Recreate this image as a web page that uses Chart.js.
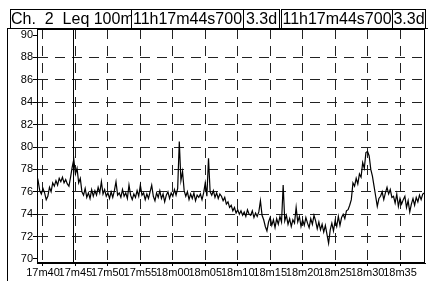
<!DOCTYPE html>
<html>
<head>
<meta charset="utf-8">
<script src="https://cdn.jsdelivr.net/npm/chart.js@4.4.0/dist/chart.umd.min.js"></script>
<style>
html, body { margin: 0; padding: 0; background: #fff; }
#wrap { position: relative; width: 428px; height: 281px; overflow: hidden; font-family: 'Liberation Sans', Arial, sans-serif; }
#levelChart { position: absolute; left: 0; top: 0; }
.box { position: absolute; top: 9px; height: 20px; box-sizing: border-box; border: 1.5px solid #000; font-size: 16px; line-height: 17px; text-align: center; color: #000; background: #fff; white-space: pre; }
#frame { position: absolute; left: 7px; top: 28px; width: 430px; height: 260px; border-left: 1px solid #000; border-top: 1px solid #000; }
</style>
</head>
<body>
<div id="wrap">
  <div id="frame"></div>
  <canvas id="levelChart" width="428" height="281"></canvas>
  <div class="box" style="left:10px;width:122px;">Ch.  2  Leq 100m</div>
  <div class="box" style="left:131px;width:113px;">11h17m44s700</div>
  <div class="box" style="left:243px;width:37px;">3.3d</div>
  <div class="box" style="left:281px;width:112px;">11h17m44s700</div>
  <div class="box" style="left:392px;width:34px;">3.3d</div>
</div>
<script>
// Leq 100m trace, resampled every 0.25 s, seconds from 17m40
const startSec = -1.0;
const stepSec = 0.25;
const levels = [
    77.6, 77.0, 76.1, 75.8,
    76.3, 75.9, 75.3, 75.6,
    76.4, 76.0, 76.8, 76.5,
    77.0, 76.6, 77.2, 76.9,
    77.3, 76.8, 77.1, 76.7,
    76.5, 77.3, 78.2, 78.9,
    77.6, 78.1, 76.8, 77.2,
    76.0, 75.7, 76.3, 75.5,
    75.9, 75.4, 76.2, 75.6,
    76.1, 75.7, 76.4, 75.9,
    76.9, 75.8, 76.2, 75.6,
    75.9, 75.4, 76.0, 75.5,
    76.1, 76.9, 75.7, 75.9,
    75.5, 76.2, 75.6, 75.9,
    75.4, 76.6, 75.7, 75.3,
    75.8, 75.5, 76.1, 75.6,
    76.6, 75.7, 75.9, 75.3,
    75.8, 75.4, 76.0, 76.6,
    75.6, 75.2, 75.9, 75.5,
    76.1, 75.4, 75.8, 75.1,
    75.7, 76.0, 75.4, 75.9,
    75.6, 76.2, 75.7, 76.3,
    80.5, 77.0, 77.8, 76.1,
    75.6, 76.0, 75.3, 75.8,
    75.4, 75.9, 75.2, 75.7,
    75.5, 75.8, 75.3, 75.9,
    76.8, 75.6, 79.0, 76.0,
    75.7, 76.1, 75.5, 75.9,
    75.4, 75.8, 75.6, 75.2,
    75.5, 74.9, 75.1, 74.6,
    74.8, 74.3, 74.6, 74.1,
    74.4, 74.0, 74.3, 73.9,
    74.2, 73.8, 74.4, 74.0,
    73.9, 74.3, 73.7, 74.1,
    73.8, 74.2, 75.2, 73.9,
    73.5, 72.9, 72.5, 73.3,
    73.7, 73.0, 73.5, 72.8,
    73.6, 73.1, 73.8, 73.3,
    76.6, 73.4, 73.9, 73.1,
    73.6, 72.9, 73.5, 73.2,
    74.6, 73.3, 73.8, 72.9,
    73.5, 73.0, 73.7, 73.2,
    72.8, 73.6, 73.1, 73.9,
    73.4, 72.7, 73.3, 72.6,
    73.1, 72.4, 73.0, 72.2,
    71.4, 72.6, 73.2, 72.5,
    73.4, 72.9, 73.8, 73.0,
    73.7, 74.0, 73.6, 74.3,
    74.4, 74.8, 75.3, 76.8,
    76.5, 77.2, 76.7, 77.6,
    77.3, 78.6, 78.1, 79.5,
    79.6, 79.2, 78.0, 77.4,
    76.5, 75.6, 74.7, 75.4,
    75.6, 76.0, 75.3, 75.9,
    76.4, 75.8, 76.2, 75.5,
    75.6, 75.0, 75.8, 74.7,
    75.4, 74.9, 75.3, 75.6,
    74.6, 75.2, 74.2, 74.9,
    75.4, 74.8, 75.5, 75.1,
    75.7, 75.3, 75.8, 75.9
];
const tickSecs = [0, 5, 10, 15, 20, 25, 30, 35, 40, 45, 50, 55];
const tickLabels = ['17m40', '17m45', '17m50', '17m55', '18m00', '18m05', '18m10', '18m15', '18m20', '18m25', '18m30', '18m35'];
const yTicks = [70, 72, 74, 76, 78, 80, 82, 84, 86, 88, 90];
const cursorSec = 4.7;

const points = levels.map((v, i) => ({ x: startSec + i * stepSec, y: v }));

const axisFont = { family: "'Liberation Sans', Arial, sans-serif", size: 11 };

// frame round the plot + the solid cursor line
const framePlugin = {
    id: 'frame',
    afterDatasetsDraw(chart) {
        const ctx = chart.ctx;
        const a = chart.chartArea;
        ctx.save();
        ctx.strokeStyle = '#000';
        ctx.lineWidth = 1;
        const cx = Math.round(chart.scales.x.getPixelForValue(cursorSec)) + 0.5;
        ctx.beginPath();
        ctx.moveTo(cx, a.top);
        ctx.lineTo(cx, a.bottom);
        ctx.stroke();
        ctx.strokeRect(a.left + 0.5, a.top + 0.5, a.width - 1, a.height - 1);
        ctx.restore();
    }
};

const ctx = document.getElementById('levelChart').getContext('2d');
new Chart(ctx, {
    type: 'line',
    plugins: [framePlugin],
    data: {
        datasets: [{
            data: points,
            borderColor: '#000',
            borderWidth: 1.2,
            pointRadius: 0,
            tension: 0,
            fill: false
        }]
    },
    options: {
        responsive: false,
        animation: false,
        layout: { padding: { top: 29, right: 3, left: 0, bottom: 0 } },
        plugins: {
            legend: { display: false },
            tooltip: { enabled: false }
        },
        scales: {
            x: {
                type: 'linear',
                min: -0.92,
                max: 58.85,
                afterBuildTicks: s => { s.ticks = tickSecs.map(v => ({ value: v })); },
                afterFit: s => { s.height = 18; },
                ticks: {
                    autoSkip: false,
                    maxRotation: 0,
                    minRotation: 0,
                    padding: 0,
                    color: '#000',
                    font: axisFont,
                    callback: (v) => tickLabels[tickSecs.indexOf(v)]
                },
                grid: {
                    color: '#222',
                    lineWidth: 1,
                    tickLength: 3,
                    tickColor: '#000'
                },
                border: { color: '#000', dash: [10, 7] }
            },
            y: {
                min: 69.64,
                max: 90.54,
                afterBuildTicks: s => { s.ticks = yTicks.map(v => ({ value: v })); },
                afterFit: s => { s.width = 37; },
                ticks: {
                    padding: 0,
                    color: '#000',
                    font: axisFont
                },
                grid: {
                    color: c => (c.tick && (c.tick.value === 70 || c.tick.value === 90)) ? 'rgba(0,0,0,0)' : '#222',
                    lineWidth: 1,
                    tickLength: 4,
                    tickColor: '#000'
                },
                border: { color: '#000', dash: [10, 7] }
            }
        }
    }
});
</script>
</body>
</html>
